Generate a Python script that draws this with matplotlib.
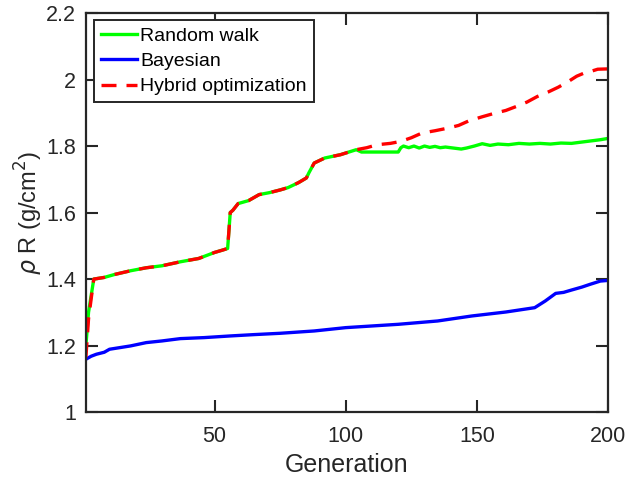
import numpy as np
import matplotlib
matplotlib.use("Agg")
import matplotlib.pyplot as plt

plt.rcParams['font.family'] = ['Liberation Sans', 'DejaVu Sans']
plt.rcParams['mathtext.fontset'] = 'dejavusans'

# Best areal density per generation for each search strategy
gen_rw = [1, 2, 4, 8, 12, 18, 24, 30, 37, 44, 50, 53, 55, 56, 57, 59, 63, 67, 71,
          75, 78, 82, 85, 86, 88, 92, 98, 102, 104, 106, 110, 115, 120, 121, 122,
          124, 126, 128, 130, 132, 134, 136, 138, 141, 144, 146, 149, 152, 155,
          158, 162, 166, 170, 174, 178, 182, 186, 190, 194, 197, 200]
rho_rw = [1.200, 1.300, 1.400, 1.405, 1.414, 1.425, 1.434, 1.440, 1.452, 1.462,
          1.480, 1.487, 1.492, 1.600, 1.607, 1.627, 1.636, 1.654, 1.660,
          1.668, 1.675, 1.690, 1.704, 1.720, 1.749, 1.764, 1.774, 1.784, 1.789,
          1.782, 1.782, 1.782, 1.782, 1.795, 1.800, 1.795, 1.800, 1.794, 1.800,
          1.796, 1.799, 1.795, 1.797, 1.794, 1.791, 1.794, 1.800, 1.807, 1.802,
          1.806, 1.804, 1.808, 1.806, 1.808, 1.806, 1.809, 1.808, 1.812, 1.816,
          1.819, 1.823]

gen_bo = [1, 3, 5, 8, 10, 14, 18, 24, 30, 37, 46, 56, 65, 75, 88, 100, 110, 120,
          135, 148, 161, 172, 176, 180, 183, 186, 190, 193, 197, 200]
rho_bo = [1.159, 1.168, 1.174, 1.180, 1.189, 1.194, 1.199, 1.209, 1.214, 1.221,
          1.224, 1.229, 1.233, 1.237, 1.244, 1.254, 1.259, 1.264, 1.274, 1.289,
          1.301, 1.314, 1.334, 1.357, 1.360, 1.367, 1.376, 1.384, 1.394, 1.396]

gen_hy = [1, 2, 4, 8, 12, 18, 24, 30, 37, 44, 50, 53, 55, 56, 57, 59, 63, 67, 71,
          75, 78, 82, 85, 86, 88, 92, 98, 102, 104, 108, 112, 117, 121, 125, 129,
          134, 139, 143, 147, 152, 156, 161, 165, 169, 173, 177, 181, 185, 188,
          191, 194, 196, 200]
rho_hy = [1.165, 1.280, 1.400, 1.405, 1.414, 1.425, 1.434, 1.440, 1.452, 1.462,
          1.480, 1.487, 1.492, 1.600, 1.607, 1.627, 1.636, 1.654, 1.660,
          1.668, 1.675, 1.690, 1.704, 1.720, 1.749, 1.764, 1.774, 1.784, 1.789,
          1.795, 1.804, 1.808, 1.814, 1.825, 1.839, 1.846, 1.854, 1.862, 1.876,
          1.888, 1.897, 1.907, 1.919, 1.932, 1.949, 1.962, 1.977, 1.995, 2.010,
          2.020, 2.026, 2.031, 2.032]

fig = plt.figure(figsize=(6.27, 4.82), dpi=100)
ax = fig.add_axes([0.137, 0.145, 0.833, 0.828])

ax.plot(gen_rw, rho_rw, color='#00ff00', lw=2.4, label='Random walk')
ax.plot(gen_bo, rho_bo, color='#0000ff', lw=2.4, label='Bayesian')
ax.plot(gen_hy, rho_hy, color='#ff0000', lw=2.4, dashes=(4.5, 3.0),
        label='Hybrid optimization')

ax.set_xlim(1, 200)
ax.set_ylim(1, 2.2)
ax.set_xticks([50, 100, 150, 200])
ax.set_yticks(np.arange(1, 2.21, 0.2))
ax.set_yticklabels(['1', '1.2', '1.4', '1.6', '1.8', '2', '2.2'])
ax.tick_params(direction='in', length=8.5, width=1.5, top=True, right=True,
               labelsize=15.5, colors='#262626', labelcolor='#262626')
ax.tick_params(axis='x', pad=10)
ax.tick_params(axis='y', pad=7)
for sp in ax.spines.values():
    sp.set_linewidth(1.6)
    sp.set_color('#262626')

ax.set_xlabel('Generation', fontsize=18, color='#262626', labelpad=4)
ax.set_ylabel(r'$\rho$ R (g/cm$^2$)', fontsize=17, color='#262626', labelpad=1)

leg = ax.legend(loc='upper left', bbox_to_anchor=(0.015, 0.982),
                borderaxespad=0, fontsize=14, handlelength=1.9,
                handletextpad=0.15, borderpad=0.35, labelspacing=0.4,
                fancybox=False, framealpha=1)
leg.get_frame().set_edgecolor('#262626')
leg.get_frame().set_linewidth(1.4)

fig.savefig('out.png', dpi=100)
